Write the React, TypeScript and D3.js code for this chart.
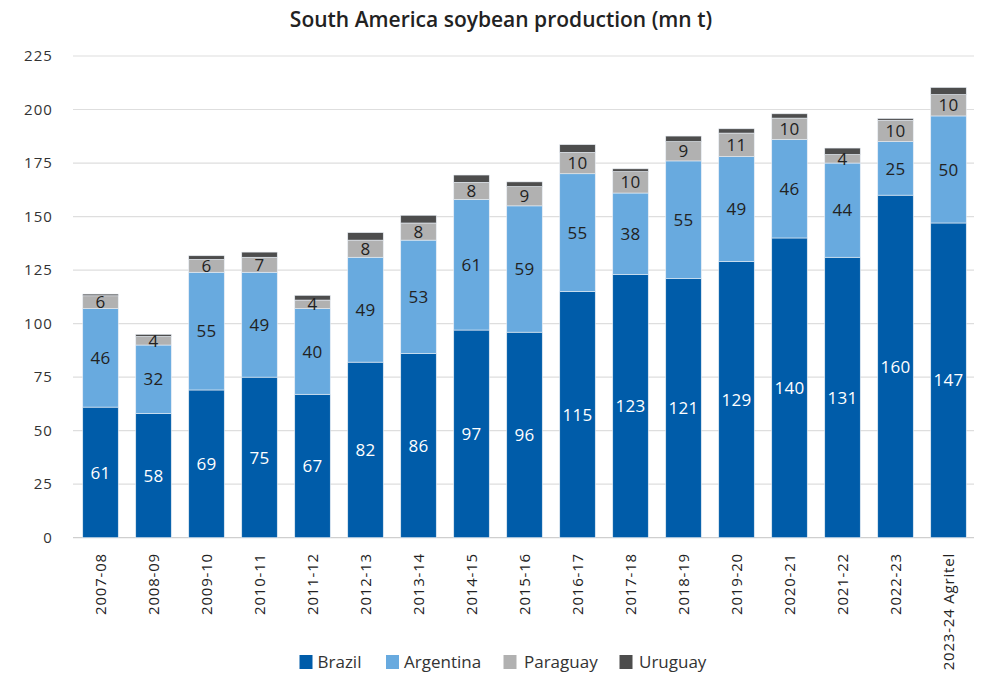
import React from "react";
import * as d3 from "d3";

const categories = ["2007-08","2008-09","2009-10","2010-11","2011-12","2012-13","2013-14","2014-15","2015-16","2016-17","2017-18","2018-19","2019-20","2020-21","2021-22","2022-23","2023-24 Agritel"];
const brazil = [61,58,69,75,67,82,86,97,96,115,123,121,129,140,131,160,147];
const argentina = [46,32,55,49,40,49,53,61,59,55,38,55,49,46,44,25,50];
const paraguay = [6,4,6,7,4,8,8,8,9,10,10,9,11,10,4,10,10];
const uruguay = [0.8,1,1.7,2.4,2.2,3.5,3.6,3.4,2.2,3.6,1.3,2.6,2,2,3,0.8,3.3];
const yTicks = [0,25,50,75,100,125,150,175,200,225];

const seriesNames = ["Brazil","Argentina","Paraguay","Uruguay"];
const seriesData = [brazil, argentina, paraguay, uruguay];
const colors = ["#005ca9","#68aadf","#b1b1b1","#4d4d4d"];
const labelColors = ["#ffffff","#222222","#222222",null];
const legendX = [299.5, 386, 503.5, 619.5];
const legendTextX = [317.5, 404, 524, 639];

const W = 982, H = 680;
const FONT = "'Open Sans', 'Noto Sans', sans-serif";

export default function App() {
  const x = d3.scaleBand<string>().domain(categories).range([74, 975]).paddingInner(0.33).paddingOuter(0.165);
  const y = d3.scaleLinear().domain([0, 225]).range([537.7, 56]);

  const rows = categories.map((c, i) => {
    const r: any = { cat: c };
    seriesNames.forEach((s, k) => (r[s] = seriesData[k][i]));
    return r;
  });
  const stacked = d3.stack<any>().keys(seriesNames)(rows);

  return (
    <div style={{ margin: -8 }}>
      <svg width={W} height={H} style={{ display: "block", background: "#fff" }} fontFamily={FONT}>
        <text x={501} y={27} textAnchor="middle" fontSize={21} fontWeight={600} fill="#222">
          South America soybean production (mn t)
        </text>
        {yTicks.map((t) => (
          <g key={t}>
            <line x1={73} x2={975} y1={y(t)} y2={y(t)} stroke={t === 0 ? "#cfcfcf" : "#dedede"} strokeWidth={1.2} />
            <text x={53} y={y(t)} dy="0.35em" textAnchor="end" fontSize={15} letterSpacing={1.1} fill="#333">{t}</text>
          </g>
        ))}
        {stacked.map((layer, k) => (
          <g key={layer.key}>
            {layer.map((d, i) => (
              <rect key={i} x={x(categories[i])} width={x.bandwidth()} y={y(d[1])} height={Math.max(0, y(d[0]) - y(d[1]))}
                fill={colors[k]} stroke="#e8eef5" strokeWidth={0.6} />
            ))}
          </g>
        ))}
        {stacked.map((layer, k) =>
          labelColors[k] ? (
            <g key={"l" + layer.key}>
              {layer.map((d, i) => (
                <text key={i} x={(x(categories[i]) as number) + x.bandwidth() / 2} y={(y(d[0]) + y(d[1])) / 2} dy="0.36em"
                  textAnchor="middle" fontSize={17} letterSpacing={0.3} fill={labelColors[k] as string}>
                  {Math.round(d[1] - d[0])}
                </text>
              ))}
            </g>
          ) : null
        )}
        {categories.map((c) => {
          const cx = (x(c) as number) + x.bandwidth() / 2;
          return (
            <text key={c} transform={`translate(${cx},553) rotate(-90)`} dy="0.36em" textAnchor="end" fontSize={15} letterSpacing={0.8} fill="#222">
              {c}
            </text>
          );
        })}
        {seriesNames.map((s, k) => (
          <g key={s}>
            <rect x={legendX[k]} y={655} width={13} height={14} fill={colors[k]} />
            <text x={legendTextX[k]} y={662} dy="0.36em" fontSize={17} fill="#333">{s}</text>
          </g>
        ))}
      </svg>
    </div>
  );
}
